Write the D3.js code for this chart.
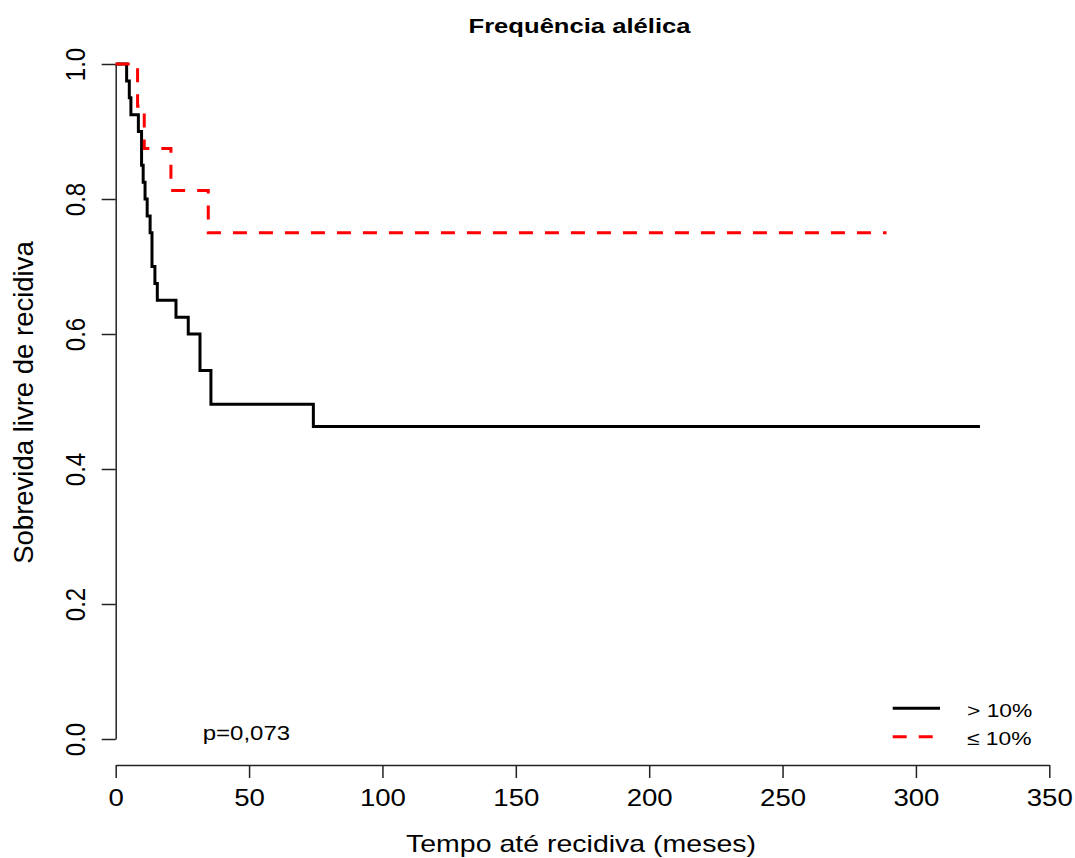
<!DOCTYPE html>
<html>
<head>
<meta charset="utf-8">
<script src="https://cdn.jsdelivr.net/npm/d3@7"></script>
<style>
body { margin: 0; background: #fff; }
text { font-family: "Liberation Sans", Arial, sans-serif; fill: #000; }
</style>
</head>
<body>
<div id="chart"></div>
<script>
// Kaplan-Meier steps (time in months, survival)
var high_times = [0, 4.1, 5.1, 5.7, 8.5, 9.7, 10.3, 11.0, 11.8, 12.9, 13.6, 14.7, 15.6, 22.6, 27.2, 31.6, 35.7, 74.1];
var high_surv  = [1, 0.975, 0.95, 0.925, 0.9, 0.85, 0.825, 0.8, 0.775, 0.75, 0.7, 0.675, 0.65, 0.625, 0.6, 0.546, 0.496, 0.463];
var high_end = 324;

var low_times = [0, 8.2, 10.7, 20.7, 34.7];
var low_surv  = [1, 0.9375, 0.875, 0.8125, 0.75];
var low_end = 289;

var x_ticks = [0, 50, 100, 150, 200, 250, 300, 350];
var y_ticks = [0, 0.2, 0.4, 0.6, 0.8, 1.0];

var legend_labels = ["> 10%", "\u2264 10%"];
var legend_colors = ["#000000", "#ff0000"];
var legend_dash = [null, "14,12"];

var title = "Frequência alélica";
var x_title = "Tempo até recidiva (meses)";
var y_title = "Sobrevida livre de recidiva";
var p_text = "p=0,073";

var width = 1075, height = 858;

var svg = d3.select("#chart").append("svg")
    .attr("width", width)
    .attr("height", height);

var x = d3.scaleLinear().domain([0, 350]).range([115.7, 1049.3]);
var y = d3.scaleLinear().domain([0, 1]).range([739, 64]);

// text in the picture is a bit wider than the font; stretch it horizontally
function stretch_text(sel, px, py, k, size) {
    return sel.attr("transform", "translate(" + px + "," + py + ") scale(" + k + ",1)")
        .style("font-size", size + "px");
}

// x axis
var xa = svg.append("g")
    .attr("transform", "translate(0,765)")
    .call(d3.axisBottom(x).tickValues(x_ticks).tickSize(13).tickSizeOuter(0));
xa.selectAll("text").remove();
xa.selectAll(".tick").append("text")
    .attr("text-anchor", "middle")
    .attr("transform", "translate(0,41) scale(1.2,1)")
    .style("font-size", "23px")
    .text(function(d) { return d; });

// y axis
var ya = svg.append("g")
    .attr("transform", "translate(115.7,0)")
    .call(d3.axisLeft(y).tickValues(y_ticks).tickSize(14).tickSizeOuter(0));
ya.selectAll("text").remove();
ya.selectAll(".tick").append("text")
    .attr("text-anchor", "middle")
    .attr("transform", "translate(-30.7,0) scale(1.17,1) rotate(-90)")
    .style("font-size", "24px")
    .text(function(d) { return d3.format(".1f")(d); });

svg.selectAll(".domain, .tick line")
    .attr("stroke", "#222")
    .attr("stroke-width", 1.5);
svg.selectAll(".tick text").style("fill", "#000");

// curves
var step = d3.line()
    .x(function(d) { return x(d[0]); })
    .y(function(d) { return y(d[1]); })
    .curve(d3.curveStepAfter);

function km_points(times, surv, end) {
    var pts = times.map(function(t, i) { return [t, surv[i]]; });
    pts.push([end, surv[surv.length - 1]]);
    return pts;
}

svg.append("path")
    .datum(km_points(high_times, high_surv, high_end))
    .attr("d", step)
    .attr("fill", "none")
    .attr("stroke", legend_colors[0])
    .attr("stroke-width", 3);

svg.append("path")
    .datum(km_points(low_times, low_surv, low_end))
    .attr("d", step)
    .attr("fill", "none")
    .attr("stroke", legend_colors[1])
    .attr("stroke-width", 3)
    .attr("stroke-dasharray", legend_dash[1]);

// titles
svg.append("text")
    .attr("text-anchor", "middle")
    .style("font-weight", "bold")
    .call(stretch_text, 579.5, 33.3, 1.28, 20)
    .text(title);

svg.append("text")
    .attr("text-anchor", "middle")
    .call(stretch_text, 581, 851.7, 1.24, 23)
    .text(x_title);

svg.append("text")
    .attr("text-anchor", "middle")
    .attr("transform", "translate(33.3,402.5) rotate(-90)")
    .style("font-size", "27.5px")
    .text(y_title);

svg.append("text")
    .attr("text-anchor", "start")
    .call(stretch_text, 202.7, 740, 1.2, 20)
    .text(p_text);

// legend
var leg = svg.append("g");
legend_labels.forEach(function(lab, i) {
    var ly = 708.3 + i * 28.4;
    leg.append("line")
        .attr("x1", 892.7).attr("x2", 940)
        .attr("y1", ly).attr("y2", ly)
        .attr("stroke", legend_colors[i])
        .attr("stroke-width", 3)
        .attr("stroke-dasharray", legend_dash[i]);
    leg.append("text")
        .attr("text-anchor", "start")
        .call(stretch_text, 967, ly + 8.4, 1.2, 19)
        .text(lab);
});
</script>
</body>
</html>
